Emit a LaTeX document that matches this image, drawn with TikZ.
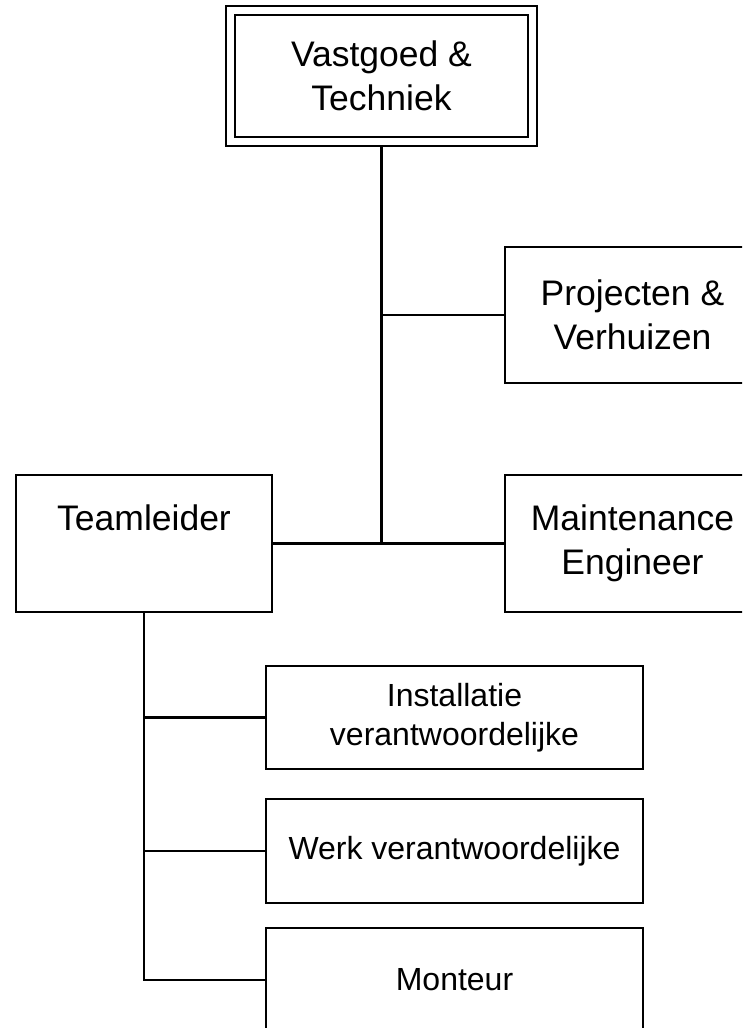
\documentclass[tikz,border=0pt]{standalone}
\usepackage{fontspec}
\setmainfont{Liberation Sans}
\usetikzlibrary{fit}
\tikzset{
  orgline/.style={line width=2.4pt, black},
  bigbox/.style={draw, line width=2.4pt, inner sep=0pt, align=center,
    font=\fontsize{35.5}{44}\selectfont},
  smallbox/.style={draw, line width=2.4pt, inner sep=0pt, align=center,
    font=\fontsize{32}{39}\selectfont},
}
\begin{document}
\begin{tikzpicture}[x=1pt,y=-1pt]
\path[use as bounding box] (0,0) rectangle (742,1028);
\clip (0,0) rectangle (742,1028);
% top box (double border)
\node[bigbox, minimum width=293pt, minimum height=122pt] (vt) at (381.5,76) {Vastgoed \&\\Techniek};
\node[draw, line width=2.4pt, fit=(vt), inner sep=8pt] (vto) {};
% right boxes
\node[bigbox, minimum width=255pt, minimum height=136pt] (pv) at (632.5,315) {Projecten \&\\Verhuizen};
\node[bigbox, minimum width=255pt, minimum height=137pt] (me) at (632.5,543.5) {Maintenance\\Engineer};
% Teamleider
\node[bigbox, minimum width=256pt, minimum height=137pt] (tl) at (144,543.5) {Teamleider\\\phantom{Engineer}};
% lower boxes
\node[smallbox, minimum width=377pt, minimum height=103pt] (iv) at (454.5,717.5) {Installatie\\verantwoordelijke};
\node[smallbox, minimum width=377pt, minimum height=104pt] (wv) at (454.5,851) {Werk verantwoordelijke};
\node[smallbox, minimum width=377pt, minimum height=104pt] (mo) at (454.5,980) {Monteur};
% connectors
\draw[orgline] (vto.south) -- (vto.south |- me.west);
\draw[orgline] (vto.south |- pv.west) -- (pv.west);
\draw[orgline] (tl.east) -- (me.west);
\draw[orgline] (tl.south) -- (tl.south |- mo.west) -- (mo.west);
\draw[orgline] (tl.south |- iv.west) -- (iv.west);
\draw[orgline] (tl.south |- wv.west) -- (wv.west);
\end{tikzpicture}
\end{document}
